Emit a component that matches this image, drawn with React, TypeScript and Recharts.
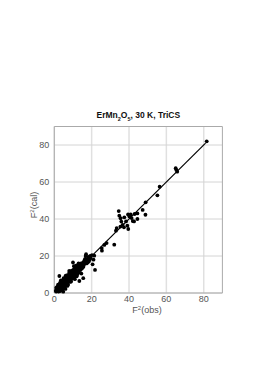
import React from 'react';
import {
  ScatterChart, Scatter, XAxis, YAxis, CartesianGrid, ReferenceArea,
} from 'recharts';

// F^2(obs), F^2(cal) pairs
const reflections: [number, number][] = [
  [81.6, 82.0], [65.0, 67.5], [65.3, 66.6], [65.8, 65.6], [56.4, 57.5],
  [55.2, 52.8], [48.9, 49.0], [48.8, 42.3], [47.3, 44.9], [44.5, 43.0],
  [44.5, 40.0], [43.0, 42.7], [42.7, 38.7], [42.0, 38.9], [41.4, 40.5],
  [40.9, 42.5], [40.2, 41.4], [39.5, 42.5], [39.6, 34.6], [39.1, 36.4],
  [38.4, 38.7], [37.5, 40.9], [37.3, 35.5], [36.6, 36.8], [35.9, 38.6],
  [35.5, 40.4], [35.4, 35.9], [34.8, 41.8], [34.5, 44.3], [33.4, 35.1],
  [33.0, 33.7], [32.1, 26.1], [28.0, 27.0], [26.8, 26.0], [25.4, 24.3],
  [25.5, 22.9], [21.8, 12.5], [21.4, 20.2], [21.0, 18.0], [20.5, 15.5],
  [20.2, 20.5], [19.5, 19.0], [19.0, 18.2], [18.5, 17.0], [17.8, 16.5],
  [17.0, 21.0], [16.8, 20.0], [16.5, 18.5], [16.2, 17.8], [16.0, 15.5],
  [15.5, 16.5], [15.2, 14.0], [15.0, 15.8], [14.8, 13.2], [14.5, 16.0],
  [14.2, 14.8], [14.0, 12.5], [13.8, 15.5], [13.5, 14.2], [13.4, 6.5],
  [13.2, 12.0], [13.0, 16.0], [12.8, 13.5], [12.5, 15.0], [12.2, 11.5],
  [12.0, 14.0], [11.8, 12.8], [11.5, 10.2], [11.2, 13.5], [11.0, 11.8],
  [10.8, 9.5], [10.5, 12.2], [10.2, 10.8], [10.0, 16.5], [10.0, 9.0],
  [9.8, 11.5], [9.5, 10.0], [9.2, 12.0], [9.0, 8.2], [8.8, 10.8],
  [8.5, 9.5], [8.2, 7.0], [8.0, 11.0], [7.8, 8.8], [7.5, 9.8],
  [7.2, 7.5], [7.0, 6.0], [6.8, 8.5], [6.5, 5.5], [6.2, 7.2],
  [6.0, 9.2], [5.8, 6.5], [5.7, 3.4], [5.5, 4.8], [5.2, 7.0],
  [5.0, 5.8], [4.8, 0.7], [4.8, 3.8], [4.5, 5.2], [4.2, 4.0],
  [4.0, 6.5], [3.8, 2.8], [3.5, 4.5], [3.2, 3.2], [3.0, 5.5],
  [2.8, 2.2], [2.7, 9.2], [2.5, 3.8], [2.2, 2.8], [2.0, 1.8],
  [1.8, 3.5], [1.5, 2.2], [1.2, 1.5], [1.0, 2.8], [0.8, 1.2],
  [1.0, 0.8], [1.3, 2.0], [1.6, 1.0], [1.9, 2.6], [2.1, 1.2],
  [2.4, 2.0], [2.6, 3.0], [2.9, 1.6], [3.1, 2.5], [3.3, 4.0],
  [3.6, 3.5], [3.7, 1.8], [3.9, 4.8], [4.1, 3.0], [4.3, 5.8],
  [4.4, 2.5], [4.6, 4.4], [4.9, 5.0], [5.1, 3.2], [5.3, 6.0],
  [5.4, 2.6], [5.6, 5.4], [5.9, 4.2], [6.1, 6.2], [6.3, 4.8],
  [6.4, 8.0], [6.6, 6.8], [6.9, 5.2], [7.1, 8.2], [7.3, 6.5],
  [7.4, 4.5], [7.6, 7.8], [7.9, 6.8], [8.1, 8.5], [8.3, 10.0],
  [8.4, 6.0], [8.6, 8.0], [8.9, 9.2], [9.1, 7.5], [9.3, 10.5],
  [9.4, 8.8], [9.6, 11.8], [9.7, 9.5], [9.9, 8.2], [10.1, 12.5],
  [10.3, 10.0], [10.4, 8.5], [10.6, 11.0], [10.9, 13.2], [11.1, 10.5],
  [11.3, 9.2], [11.4, 12.0], [11.6, 14.8], [11.9, 11.2], [12.1, 12.8],
  [12.3, 10.0], [12.4, 13.8], [12.6, 12.2], [12.9, 14.5], [13.1, 11.0],
  [13.3, 13.0], [13.6, 15.0], [13.7, 12.8], [13.9, 14.0], [14.1, 15.8],
  [14.3, 13.5], [14.6, 14.5], [14.9, 15.0], [15.3, 15.2], [15.6, 14.2],
  [15.8, 16.8], [16.4, 16.0], [16.9, 17.5], [17.3, 16.0], [17.5, 18.2],
  [18.0, 17.8], [18.2, 19.5], [18.8, 18.0], [19.2, 20.0], [12.0, 9.0],
  [9.0, 6.2], [7.0, 3.8], [6.0, 2.2], [11.0, 7.5], [14.5, 10.5],
  [15.5, 8.0], [10.5, 14.5], [8.0, 12.0], [6.5, 9.5], [5.0, 8.0],
  [3.5, 6.8], [2.0, 4.5], [1.4, 3.2], [2.3, 0.8], [3.0, 1.0], [4.0, 1.5],
];

const fitLine = [{ obs: 0.5, cal: 0.5 }, { obs: 81, cal: 81 }];
const axisTicks = [0, 20, 40, 60, 80];
const axisDomain = [0, 90];

const points = reflections.map(([obs, cal]) => ({ obs, cal }));

const FONT = '"Liberation Sans", Arial, Helvetica, sans-serif';
const GREY = '#555';

const Dot = (props: any) => <circle cx={props.cx} cy={props.cy} r={1.9} fill="#000" />;

const Title = (props: any) => {
  const { x, y, width } = props.viewBox;
  return (
    <text x={x + width / 2} y={y - 9} textAnchor="middle" fontFamily={FONT} fontSize={8.5} fontWeight="bold" fill="#111">
      ErMn<tspan fontSize={5.5} dy={3.5}>2</tspan><tspan dy={-3.5}>O</tspan><tspan fontSize={5.5} dy={3.5}>5</tspan><tspan dy={-3.5}>, 30 K, TriCS</tspan>
    </text>
  );
};

const XLabel = () => (
  <text x={147} y={313} textAnchor="middle" fontFamily={FONT} fontSize={9} fill={GREY}>
    F<tspan fontSize={6} dy={-3.5}>2</tspan><tspan dy={3.5}>(obs)</tspan>
  </text>
);

const YLabel = () => (
  <text x={0} y={0} transform="translate(37 205) rotate(-90)" textAnchor="middle" fontFamily={FONT} fontSize={9} fill={GREY}>
    F<tspan fontSize={6} dy={-3.5}>2</tspan><tspan dy={3.5}>(cal)</tspan>
  </text>
);

export default function App() {
  return (
    <div style={{ position: 'absolute', left: 0, top: 0, width: 273, height: 386, background: '#fff' }}>
      <ScatterChart width={273} height={386} margin={{ top: 126.5, right: 50.6, left: 24.3, bottom: 73 }}>
        <CartesianGrid horizontal={false} stroke="#e0e0e0" strokeWidth={1.5} verticalValues={axisTicks} />
        <CartesianGrid vertical={false} stroke="#d4d4d4" horizontalValues={axisTicks} />
        <XAxis
          type="number" dataKey="obs" domain={axisDomain} ticks={axisTicks} interval={0}
          axisLine={false} tickLine={false} tickSize={2} tickMargin={1} height={20}
          tick={{ fill: GREY, fontSize: 9, fontFamily: FONT }}
          label={<XLabel />}
        />
        <YAxis
          type="number" dataKey="cal" domain={axisDomain} ticks={axisTicks} interval={0}
          axisLine={false} tickLine={false} tickSize={2} tickMargin={3} width={30}
          tick={{ fill: GREY, fontSize: 9, fontFamily: FONT }}
          label={<YLabel />}
        />
        <ReferenceArea x1={0} x2={90} y1={0} y2={90} fill="none" stroke="#aaa" strokeWidth={1} label={<Title />} />
        <Scatter data={fitLine} line={{ stroke: '#000', strokeWidth: 1.2 }} shape={() => null} isAnimationActive={false} />
        <Scatter data={points} shape={<Dot />} isAnimationActive={false} />
      </ScatterChart>
    </div>
  );
}
